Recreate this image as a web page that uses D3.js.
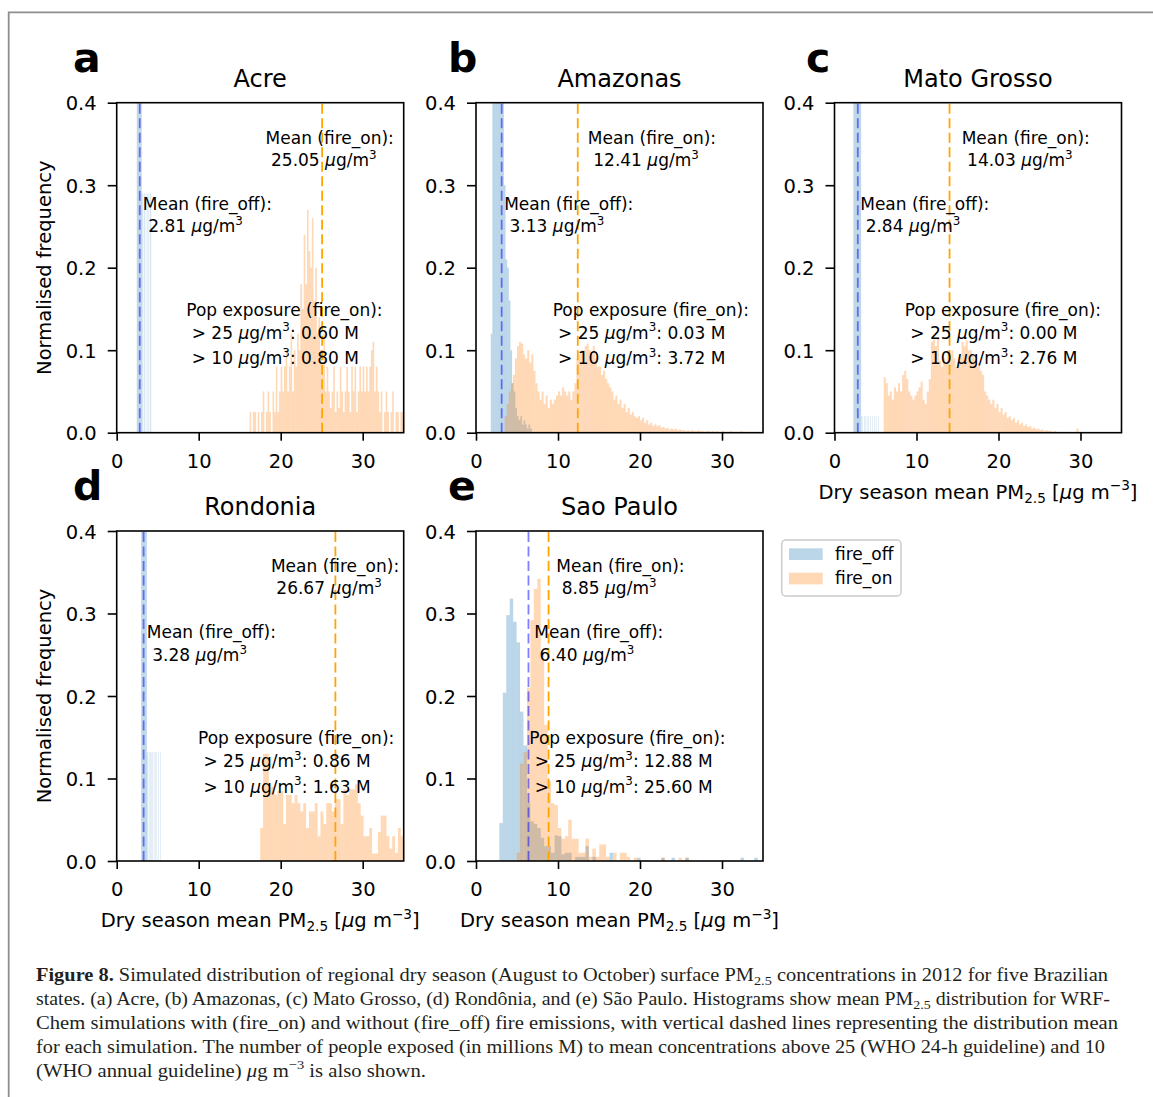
<!DOCTYPE html>
<html>
<head>
<meta charset="utf-8">
<script src="https://cdn.jsdelivr.net/npm/d3@7"></script>
<style>
body { margin: 0; background: #fff; }
text { font-family: "DejaVu Sans", sans-serif; white-space: pre; }
</style>
</head>
<body>
<div id="chart"></div>
<script>
// ---- data ----
var states = ["Acre", "Amazonas", "Mato Grosso", "Rondonia", "Sao Paulo"];
var letters = ["a", "b", "c", "d", "e"];
var meanOff = [2.81, 3.13, 2.84, 3.28, 6.40];
var meanOn = [25.05, 12.41, 14.03, 26.67, 8.85];
var popOver25 = [0.60, 0.03, 0.00, 0.86, 12.88];
var popOver10 = [0.80, 3.72, 2.76, 1.63, 25.60];
var xTicks = [0, 10, 20, 30];
var yTicks = [0, 0.1, 0.2, 0.3, 0.4];
var seriesNames = ["fire_off", "fire_on"];

// histogram bins: first edge, bin width, normalised frequency per bin
var offStart = [2.45, 1.8, 2.3, 2.98, 2.85];
var offWidth = [0.05, 0.2, 0.05, 0.05, 0.42];
var onStart = [16.2, 3.5, 6.0, 17.5, 4.95];
var onWidth = [0.2, 0.25, 0.25, 0.35, 0.42];

var acreOff = [0.9, 0.9, 0.9, 0.9, 0.9, 0.9, 0.9, 0.9, 0.9, 0.9, 0.9, 0.9,
    0.29, 0, 0.29, 0, 0, 0.29, 0, 0.29, 0, 0, 0.29, 0, 0, 0.29, 0, 0, 0, 0.29, 0, 0, 0.29, 0, 0.29];
var acreOn = [0.025, 0, 0.025, 0.025, 0, 0.025, 0, 0.025, 0.05,
    0, 0.025, 0.05, 0.025, 0, 0.05, 0.025, 0.08, 0.025, 0.05,
    0.08, 0.05, 0.08, 0.1, 0.05,
    0.08, 0.12, 0.05, 0.1, 0.08,
    0.12, 0.1, 0.18, 0.15,
    0.24, 0.18, 0.27, 0.22, 0.2, 0.26,
    0.16, 0.2, 0.12, 0.14, 0.1,
    0.08, 0.12, 0.05, 0.08, 0.05,
    0.03, 0.05, 0.08, 0.025, 0.05, 0.03, 0.08, 0.05, 0.025, 0.05,
    0.08, 0.05, 0.025, 0.08, 0.05, 0.08, 0.025, 0.05, 0.08, 0.05,
    0.08, 0.05, 0.08, 0.05, 0.08, 0.1, 0.11, 0.05, 0.08, 0.05, 0.025, 0.05, 0, 0.025, 0.05,
    0.025, 0, 0.025, 0.05, 0, 0.025, 0.025, 0, 0.025, 0.025];

var amazonasOff = [0.12, 0.45, 0.5, 0.5, 0.5, 0.5, 0.48, 0.42, 0.3, 0.21, 0.2, 0.16, 0.1,
    0.06, 0.05, 0.03, 0.02, 0.015, 0.02, 0.01, 0.015, 0.01, 0.005, 0.01, 0.005];
var amazonasOn = [0.02, 0.035, 0.05, 0.06, 0.07, 0.09, 0.105, 0.11, 0.108, 0.095,
    0.09, 0.1, 0.085, 0.095, 0.075, 0.06, 0.05, 0.04, 0.05, 0.035,
    0.045, 0.03, 0.04, 0.035, 0.04, 0.045, 0.05, 0.045, 0.055, 0.05,
    0.045, 0.05, 0.04, 0.05, 0.06, 0.09, 0.095, 0.1, 0.1, 0.105,
    0.108, 0.1, 0.095, 0.105, 0.09, 0.08, 0.08, 0.07, 0.075, 0.065,
    0.06, 0.055, 0.05, 0.04, 0.045, 0.035, 0.04, 0.03, 0.035, 0.025,
    0.03, 0.022, 0.025, 0.02, 0.018, 0.02, 0.015, 0.018, 0.012, 0.015,
    0.01, 0.012, 0.008, 0.01, 0.008, 0.009, 0.006, 0.007, 0.005, 0.006,
    0.004, 0.005, 0.004, 0.005, 0.003, 0.004, 0.003, 0.003, 0.002, 0.003,
    0.002, 0.003, 0.002, 0.002, 0.003, 0.002, 0.002, 0.001, 0.002, 0.002,
    0.001, 0.002, 0.001, 0.002, 0.001, 0.001, 0.002, 0.001, 0.001, 0.001,
    0.002, 0.001, 0.001, 0.001, 0.001, 0.002, 0.001, 0.001, 0.001, 0.001, 0.001, 0.001, 0.001, 0.001];

var matoOff = [0.9, 0.9, 0.9, 0.9, 0.9, 0.9, 0.9, 0.9, 0.9, 0.9, 0.9, 0.9, 0.9, 0.9, 0.9, 0.9, 0.9, 0.9, 0.9,
    0.02, 0, 0, 0.02, 0, 0, 0, 0.02, 0, 0, 0.02, 0, 0, 0, 0.02, 0, 0, 0, 0.02, 0, 0, 0, 0,
    0.02, 0, 0, 0, 0.02, 0, 0, 0, 0, 0.02, 0, 0, 0, 0.02, 0, 0, 0, 0, 0.02];
var matoOn = [0.067, 0.06, 0.045, 0.05, 0.04, 0.055, 0.05, 0.06, 0.05, 0.07,
    0.075, 0.065, 0.05, 0.045, 0.04, 0.045, 0.05, 0.055, 0.062, 0.04,
    0.035, 0.05, 0.065, 0.11, 0.113, 0.105, 0.115, 0.087, 0.08, 0.09,
    0.085, 0.1, 0.095, 0.1, 0.09, 0.08, 0.085, 0.095, 0.11, 0.105,
    0.112, 0.1, 0.1, 0.095, 0.09, 0.08, 0.085, 0.075, 0.07, 0.05,
    0.045, 0.04, 0.035, 0.04, 0.03, 0.035, 0.025, 0.03, 0.022, 0.025,
    0.018, 0.02, 0.015, 0.018, 0.012, 0.015, 0.01, 0.012, 0.008, 0.01,
    0.007, 0.008, 0.005, 0.006, 0.004, 0.005, 0.003, 0.004, 0.002, 0.003,
    0.002, 0.002, 0.001, 0.002, 0.001, 0, 0.001, 0, 0, 0, 0, 0, 0, 0, 0.005];

var rondoniaOff = [0.9, 0.9, 0.9, 0.9, 0.9, 0.9, 0.9, 0.9, 0.9, 0.9, 0.9, 0.9, 0.9, 0.9,
    0.132, 0, 0.132, 0, 0, 0.132, 0, 0, 0.132, 0, 0.132, 0, 0, 0.132, 0, 0, 0, 0.132,
    0, 0, 0.132, 0, 0, 0, 0.132, 0, 0, 0, 0.132, 0, 0, 0, 0, 0.132, 0];
var rondoniaOn = [0.04, 0.13, 0.13, 0.09, 0.09, 0.08, 0.085, 0.085, 0.045, 0.08,
    0.08, 0.07, 0.08, 0.07, 0.06, 0.07, 0.04, 0.06, 0.06, 0.07,
    0.03, 0.06, 0.045, 0.07, 0.07, 0.06, 0.075, 0.075, 0.045, 0.087,
    0.08, 0.087, 0.087, 0.093, 0.07, 0.055, 0.03, 0.03, 0.04, 0.009,
    0.009, 0.035, 0.055, 0.055, 0.03, 0.015, 0.03, 0.01, 0.04, 0.03];

var saoPauloOff = [0.046, 0.204, 0.298, 0.318, 0.29, 0.265, 0.181, 0.14, 0.07, 0.048,
    0.045, 0.04, 0.028, 0.018, 0.018, 0.01, 0.031, 0.03, 0.008, 0.01,
    0.01, 0, 0.005, 0.005, 0.005, 0.018, 0, 0.005, 0, 0,
    0, 0, 0.01, 0, 0, 0, 0, 0, 0, 0,
    0.004, 0, 0, 0, 0, 0, 0, 0.004, 0, 0,
    0.004, 0, 0, 0, 0.004, 0, 0, 0, 0, 0,
    0, 0, 0, 0, 0, 0, 0, 0, 0, 0,
    0.004, 0, 0, 0, 0.004];
var saoPauloOn = [0.01, 0.118, 0.132, 0.21, 0.292, 0.33, 0.342, 0.254, 0.165, 0.097,
    0.07, 0.068, 0.04, 0.027, 0.03, 0.05, 0.027, 0.027, 0.01, 0.01,
    0.027, 0.005, 0.015, 0.005, 0.02, 0.02, 0.005, 0, 0.01, 0,
    0.01, 0.01, 0.005, 0, 0.004, 0, 0, 0, 0, 0,
    0, 0, 0.004, 0, 0, 0, 0, 0.004, 0, 0.004];

var offHeights = [acreOff, amazonasOff, matoOff, rondoniaOff, saoPauloOff];
var onHeights = [acreOn, amazonasOn, matoOn, rondoniaOn, saoPauloOn];

// ---- layout ----
var W = 1153, H = 1097;
var colLeft = [116.7, 476, 834.5], rowTop = [102.7, 531];
var axW = 287, axH = 330;
var panelCol = [0, 1, 2, 0, 1], panelRow = [0, 0, 0, 1, 1];
var letterX = [73, 448, 806, 73, 448];
var hasYLabel = [true, false, false, true, false];
var hasXLabel = [false, false, true, true, true];
var onLabelX = [18.16, 13.64, 15.51, 18.81, 9.8];
var offLabelX = [3.18, 3.43, 3.14, 3.67, 7.1];
var popLabelX = [8.49, 9.35, 8.58, 9.92, 6.5];
var colorOff = "#1f77b4", colorOn = "#ff7f0e";
var tickFont = 19.5, annFont = 17;

var svg = d3.select("#chart")
    .append("svg")
    .attr("width", W)
    .attr("height", H);

// rich text: parts are [string, kind] where kind is it / sup / sub / b
function rich(sel, parts, size) {
    var shift = 0;
    parts.forEach(function(p) {
        var kind = p[1] || "";
        var target = kind === "sup" ? -0.42 : kind === "sub" ? 0.22 : 0;
        var ts = sel.append("tspan").text(p[0]);
        var dy = (target - shift) * size;
        if (dy) ts.attr("dy", dy);
        shift = target;
        if (kind === "sup" || kind === "sub") ts.attr("font-size", size * 0.7);
        if (kind === "it") ts.style("font-style", "italic");
        if (kind === "b") ts.style("font-weight", "bold");
    });
    return sel;
}

function addText(g, x, y, parts, size) {
    var t = g.append("text")
        .attr("x", x)
        .attr("y", y)
        .attr("xml:space", "preserve")
        .attr("font-size", size);
    return rich(t, parts, size);
}

// figure frame
svg.append("path")
    .attr("d", "M8.7," + H + "V12.3H" + W)
    .attr("fill", "none")
    .attr("stroke", "#8e8e8e")
    .attr("stroke-width", 1.8);

states.forEach(function(name, i) {
    var left = colLeft[panelCol[i]], top = rowTop[panelRow[i]];
    var x = d3.scaleLinear().domain([0, 35]).range([0, axW]);
    var y = d3.scaleLinear().domain([0, 0.4]).range([axH, 0]);

    var g = svg.append("g")
        .attr("transform", "translate(" + left + "," + top + ")");

    g.append("clipPath")
        .attr("id", "clip-" + i)
        .append("rect")
        .attr("width", axW)
        .attr("height", axH);

    var plot = g.append("g").attr("clip-path", "url(#clip-" + i + ")");

    function bars(start, width, heights, color) {
        var bins = heights.map(function(v, k) {
            return {x0: start + k * width, x1: start + (k + 1) * width, v: v};
        }).filter(function(d) { return d.v > 0; });
        plot.append("g")
            .selectAll("rect")
            .data(bins)
            .enter().append("rect")
            .attr("x", function(d) { return x(d.x0); })
            .attr("width", function(d) { return x(d.x1) - x(d.x0); })
            .attr("y", function(d) { return y(d.v); })
            .attr("height", function(d) { return y(0) - y(d.v); })
            .attr("fill", color)
            .attr("fill-opacity", 0.3);
    }

    bars(offStart[i], offWidth[i], offHeights[i], colorOff);
    bars(onStart[i], onWidth[i], onHeights[i], colorOn);

    // mean lines
    [[meanOff[i], "#0000ff", 0.5], [meanOn[i], "#ffa500", 1]].forEach(function(m) {
        plot.append("line")
            .attr("x1", x(m[0])).attr("x2", x(m[0]))
            .attr("y1", y(0)).attr("y2", y(0.4))
            .attr("stroke", m[1])
            .attr("stroke-opacity", m[2])
            .attr("stroke-width", 1.8)
            .attr("stroke-dasharray", "10,4.5");
    });

    // annotations
    var unit = [["\u03bc", "it"], ["g/m"], ["3", "sup"]];
    addText(g, x(onLabelX[i]), y(0.3505), [["Mean (fire_on):"]], annFont);
    addText(g, x(onLabelX[i]), y(0.3505) + 22.4,
        [[" " + meanOn[i].toFixed(2) + " "]].concat(unit), annFont);
    addText(g, x(offLabelX[i]), y(0.27), [["Mean (fire_off):"]], annFont);
    addText(g, x(offLabelX[i]), y(0.27) + 22.4,
        [[" " + meanOff[i].toFixed(2) + " "]].concat(unit), annFont);
    addText(g, x(popLabelX[i]), y(0.1415), [["Pop exposure (fire_on):"]], annFont);
    addText(g, x(popLabelX[i]), y(0.1415) + 22.6,
        [[" > 25 "]].concat(unit, [[": " + popOver25[i].toFixed(2) + " M"]]), annFont);
    addText(g, x(popLabelX[i]), y(0.1415) + 48.3,
        [[" > 10 "]].concat(unit, [[": " + popOver10[i].toFixed(2) + " M"]]), annFont);

    // spines
    g.append("rect")
        .attr("width", axW)
        .attr("height", axH)
        .attr("fill", "none")
        .attr("stroke", "#000")
        .attr("stroke-width", 1.6);

    // axes
    var yAxis = g.append("g")
        .call(d3.axisLeft(y).tickValues(yTicks).tickFormat(d3.format(".1f"))
            .tickSize(9).tickPadding(11).tickSizeOuter(0));
    var xAxis = g.append("g")
        .attr("transform", "translate(0," + axH + ")")
        .call(d3.axisBottom(x).tickValues(xTicks).tickFormat(d3.format("d"))
            .tickSize(8).tickPadding(13.5).tickSizeOuter(0));
    [yAxis, xAxis].forEach(function(a) {
        a.select(".domain").remove();
        a.selectAll(".tick line").attr("stroke", "#000").attr("stroke-width", 1.6);
        a.selectAll(".tick text")
            .attr("fill", "#000")
            .attr("font-size", tickFont)
            .style("font-family", "DejaVu Sans");
    });
    yAxis.selectAll(".tick text").attr("dy", "0.36em");

    // title and panel letter
    g.append("text")
        .attr("x", axW / 2)
        .attr("y", -16)
        .attr("text-anchor", "middle")
        .attr("font-size", 24)
        .text(name);
    svg.append("text")
        .attr("x", letterX[i])
        .attr("y", top - 31.2)
        .attr("font-size", 41)
        .attr("font-weight", "bold")
        .text(letters[i]);

    if (hasYLabel[i]) {
        g.append("text")
            .attr("transform", "translate(" + (51 - left) + "," + (axH / 2) + ") rotate(-90)")
            .attr("text-anchor", "middle")
            .attr("font-size", tickFont)
            .text("Normalised frequency");
    }
    if (hasXLabel[i]) {
        addText(g, axW / 2, axH + 66,
            [["Dry season mean PM"], ["2.5", "sub"], [" ["], ["\u03bc", "it"], ["g m"], ["\u22123", "sup"], ["]"]],
            tickFont)
            .attr("text-anchor", "middle");
    }
});

// legend
var legend = svg.append("g").attr("transform", "translate(781.7,540)");
legend.append("rect")
    .attr("width", 119.3)
    .attr("height", 56)
    .attr("rx", 4)
    .attr("fill", "#fff")
    .attr("stroke", "#cccccc")
    .attr("stroke-width", 1.5);
legend.selectAll(".legends")
    .data(seriesNames)
    .enter().append("g")
    .attr("class", "legends")
    .attr("transform", function(d, k) { return "translate(0," + (k * 24.4) + ")"; })
    .each(function(d, k) {
        var lg = d3.select(this);
        lg.append("rect")
            .attr("x", 7.3).attr("y", 8.3)
            .attr("width", 33.7).attr("height", 11.7)
            .attr("fill", k === 0 ? colorOff : colorOn)
            .attr("fill-opacity", 0.3);
        lg.append("text")
            .attr("x", 53.3).attr("y", 20)
            .attr("font-size", 17)
            .text(d);
    });

// caption
var captionLines = [
    [["Figure 8.", "b"], [" Simulated distribution of regional dry season (August to October) surface PM"], ["2.5", "sub"], [" concentrations in 2012 for five Brazilian"]],
    [["states. (a) Acre, (b) Amazonas, (c) Mato Grosso, (d) Rond\u00f4nia, and (e) S\u00e3o Paulo. Histograms show mean PM"], ["2.5", "sub"], [" distribution for WRF-"]],
    [["Chem simulations with (fire_on) and without (fire_off) fire emissions, with vertical dashed lines representing the distribution mean"]],
    [["for each simulation. The number of people exposed (in millions M) to mean concentrations above 25 (WHO 24-h guideline) and 10"]],
    [["(WHO annual guideline) "], ["\u03bc", "it"], ["g m"], ["\u22123", "sup"], [" is also shown."]]
];
var captionWidth = [1072, 1074, 1082, 1069, 390];
captionLines.forEach(function(parts, k) {
    addText(svg, 36, 981 + k * 24, parts, 19)
        .style("font-family", "Liberation Serif")
        .attr("fill", "#231f20")
        .attr("textLength", captionWidth[k])
        .attr("lengthAdjust", "spacingAndGlyphs");
});
</script>
</body>
</html>
